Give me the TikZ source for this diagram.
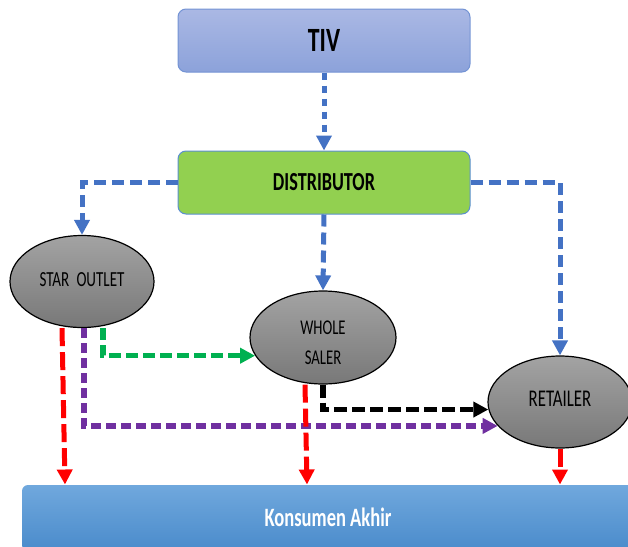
\documentclass[tikz,border=0pt]{standalone}
\usepackage{fontspec}
\setmainfont[FakeStretch=0.7]{Carlito}
\usetikzlibrary{arrows.meta,shapes.geometric,calc}
\definecolor{tivtop}{HTML}{AAB8E4}
\definecolor{tivbot}{HTML}{8CA2DA}
\definecolor{tivline}{HTML}{7393D4}
\definecolor{distfill}{HTML}{92D050}
\definecolor{distline}{HTML}{5B8FCF}
\definecolor{konstop}{HTML}{70A8DD}
\definecolor{konsbot}{HTML}{4A8BCB}
\definecolor{elltop}{HTML}{A3A3A3}
\definecolor{ellbot}{HTML}{787878}
\definecolor{arrblue}{HTML}{4472C4}
\definecolor{arrred}{HTML}{FF0000}
\definecolor{arrgreen}{HTML}{00B050}
\definecolor{arrpurple}{HTML}{7030A0}
\begin{document}
\begin{tikzpicture}[x=1pt,y=-1pt,
  box/.style={rectangle,rounded corners=8pt,inner sep=0pt,line width=1pt},
  oval/.style={ellipse,draw=black,line width=1.2pt,inner sep=0pt,
    top color=elltop,bottom color=ellbot,minimum width=144pt,minimum height=92pt,
    font=\fontsize{21.5}{30}\selectfont,align=center},
  conn/.style={line width=5pt,-{Triangle[length=15pt 0 0,width=15pt 0 0]}},
  blueconn/.style={conn,draw=arrblue,dash pattern=on 12pt off 6pt},
  dotconn/.style={conn,draw=arrblue,dash pattern=on 7pt off 6pt},
  redconn/.style={conn,draw=arrred,dash pattern=on 18pt off 6pt},
  greenconn/.style={conn,line width=5.5pt,draw=arrgreen,dash pattern=on 12pt off 5pt},
  purpleconn/.style={conn,line width=5.5pt,draw=arrpurple,dash pattern=on 10pt off 5pt},
  blackconn/.style={conn,line width=5.5pt,draw=black,dash pattern=on 13pt off 5pt}]
\useasboundingbox (0,0) rectangle (628,546);
\node[box,draw=tivline,top color=tivtop,bottom color=tivbot,minimum width=292pt,minimum height=63pt,
  font=\fontsize{34}{40}\selectfont\bfseries] (tiv) at (324,40.5) {TIV};
\node[box,draw=distline,fill=distfill,minimum width=292pt,minimum height=63pt,
  font=\fontsize{26}{30}\selectfont\bfseries] (dist) at (324,182.5) {DISTRIBUTOR};
\node[box,rounded corners=6pt,draw=none,top color=konstop,bottom color=konsbot,minimum width=612pt,minimum height=66pt,
  text=white,font=\fontsize{26.5}{30}\selectfont\bfseries] (kons) at (328,518) {\raisebox{1pt}[\height][\depth]{Konsumen Akhir}};
\node[oval] (star) at (82,281.5) {\raisebox{2pt}[\height][\depth]{STAR\,\,OUTLET}};
\node[oval,minimum width=146pt,minimum height=93pt,font=\fontsize{21}{30}\selectfont] (ws) at (323,337.5)
  {\raisebox{-6pt}[\height][\depth]{\begin{tabular}{@{}c@{}}WHOLE\\SALER\end{tabular}}};
\node[oval,font=\fontsize{24}{30}\selectfont] (ret) at (560,402) {\raisebox{3pt}[\height][\depth]{RETAILER}};
% connectors
\draw[dotconn] (tiv.south) -- (dist.north);
\draw[blueconn] (dist.west) -| (star.north);
\draw[blueconn] (dist.south) -- (ws.north);
\draw[blueconn] (dist.east) -| (ret.north);
\draw[redconn] ([xshift=-20pt]star.south) -- ([xshift=-17pt]star.south |- kons.north);
\draw[purpleconn] ([xshift=2pt]star.south) |- (ret.201);
\draw[greenconn] ([xshift=21pt]star.south) |- (ws.195);
\draw[redconn] ([xshift=-18pt]ws.south) -- ([xshift=-16pt]ws.south |- kons.north);
\draw[blackconn] (ws.south) |- (ret.186);
\draw[redconn] (ret.south) -- (ret.south |- kons.north);
\end{tikzpicture}
\end{document}
